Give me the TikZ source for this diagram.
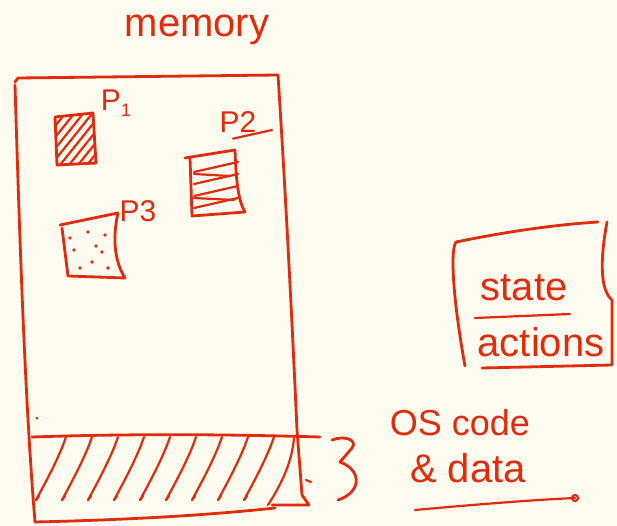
\documentclass[tikz,border=0pt]{standalone}
\usepackage{fontspec}
\setmainfont{Liberation Sans}
\definecolor{paper}{HTML}{FEFCF0}
\definecolor{ink}{HTML}{E12B0C}
\begin{document}
\begin{tikzpicture}[x=1pt,y=-1pt,
  pen/.style={draw=ink,line width=2.8pt,line cap=round,line join=round},
  thin/.style={draw=ink,line width=2.2pt,line cap=round,line join=round},
  hand/.style={text=ink,font=\fontsize{40}{40}\selectfont,inner sep=0pt},
  lbl/.style={text=ink,font=\fontsize{30}{30}\selectfont,inner sep=0pt}]
\fill[paper] (0,0) rectangle (617,526);
\useasboundingbox (0,0) rectangle (617,526);
% title
\node[hand] (mem) at (197,30) {memory};
% memory rectangle
\draw[pen] (15,82) -- (18,78) -- (278,75);
\draw[pen] (15,85) .. controls (20,250) and (25,400) .. (35,522);
\draw[pen] (35,522) .. controls (120,520) and (200,516) .. (275,508);
\draw[pen] (278,75) .. controls (286,200) and (292,320) .. (297,430) -- (302,495) -- (309,505) -- (272,505);
\draw[thin] (306,480) -- (311,482);
\fill[ink] (37,418) circle (1.5);
% OS region
\draw[pen] (32,437) .. controls (150,433) and (250,435) .. (320,437);
\foreach \x in {36,62,88,114,140,166,192,218,244} {
  \draw[thin] (\x,500) .. controls (\x+12,478) and (\x+24,455) .. (\x+30,437);
  \draw[thin] (\x,500) -- (\x+3,496);
}
\draw[thin] (268,505) .. controls (284,480) and (292,460) .. (294,438);
% P1
\draw[pen] (55,117) -- (93,113) -- (96,163) -- (57,165) -- cycle;
\begin{scope}
\clip (55,117) -- (93,113) -- (96,163) -- (57,165) -- cycle;
\foreach \d in {0,9,...,96} { \draw[thin] (55+\d-40,165) -- (55+\d,115); }
\end{scope}
\node[lbl] (p1) at (116,103) {P\raisebox{-6pt}{\fontsize{18}{18}\selectfont 1}};
% P2
\draw[pen] (185,158) -- (235,150) .. controls (236,180) and (238,200) .. (245,212) -- (192,216) -- (190,158);
\foreach \y in {168,180,192,204} { \draw[thin] (194,\y+4) -- (238,\y-6); }
\draw[thin] (194,174) -- (230,176);
\draw[thin] (194,198) -- (234,200);
\node[lbl] (p2) at (238,122) {P2};
\draw[thin] (p2.south) ++(-5,6) -- (272,130);
% P3
\draw[pen] (60,225) -- (118,213) .. controls (112,240) and (115,262) .. (125,278) -- (68,276) -- (62,228);
\foreach \p in {(70,238),(88,232),(105,235),(96,246),(74,250),(102,252),(80,268),(108,268),(92,262)} { \fill[ink] \p circle (1.8); }
\node[lbl] (p3) at (138,211) {P3};
% state / actions box
\draw[pen] (456,242) .. controls (450,250) and (453,300) .. (465,366);
\draw[pen] (456,242) .. controls (500,233) and (550,225) .. (598,222);
\draw[pen] (607,222) .. controls (600,260) and (600,290) .. (612,300) -- (612,365) -- (482,368);
\node[hand] (state) at (524,288) {state};
\draw[thin] (475,318) -- (570,314);
\node[hand] (act) at (541,342) {actions};
% OS code & data
\draw[pen] (332,440) .. controls (345,435) and (358,440) .. (352,448) -- (340,462) .. controls (362,470) and (362,492) .. (338,500);
\node[hand,font=\fontsize{36}{36}\selectfont] (os) at (460,423) {OS code};
\node[hand] (data) at (468,468) {\& data};
\draw[thin] (415,510) .. controls (470,505) and (530,500) .. (575,498);
\draw[thin] (575,498) circle (3);
\end{tikzpicture}
\end{document}
